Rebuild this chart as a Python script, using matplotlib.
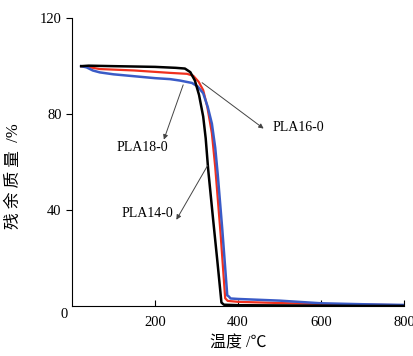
import matplotlib
matplotlib.use('Agg')
import matplotlib.pyplot as plt

plt.rcParams['font.family'] = ['Liberation Serif', 'Noto Sans CJK SC', 'DejaVu Sans']

# TG curves (temperature in C, residual mass in %)
t_black = [22, 40, 100, 200, 250, 272, 285, 296, 306, 316, 322, 328, 340, 350, 360, 366, 400, 500, 600, 700, 800]
w_black = [100, 100.2, 100, 99.7, 99.3, 99, 97.5, 94, 88, 79, 70, 57, 36, 19, 1.5, 0.6, 0.4, 0.3, 0.2, 0.1, 0.1]

t_red = [22, 40, 67, 150, 236, 277, 292, 305, 316, 326, 337, 345, 358, 369, 375, 400, 500, 600, 700, 800]
w_red = [100, 99.6, 98.8, 98.2, 97.2, 96.8, 96, 93.5, 90, 83, 72, 58, 30, 3.3, 2.2, 1.8, 1.3, 0.9, 0.6, 0.4]

t_blue = [22, 35, 50, 67, 100, 150, 200, 236, 260, 289, 303, 316, 327, 337, 345, 351, 362, 374, 378, 382, 400, 500, 600, 700, 800]
w_blue = [100, 99.5, 98.2, 97.4, 96.6, 95.8, 95, 94.6, 94, 93, 91.5, 88.7, 83, 76, 66, 55, 32, 4.5, 4, 3.2, 3, 2.3, 1.2, 0.8, 0.5]

x_ticks = [200, 400, 600, 800]
y_ticks = [40, 80, 120]

fig = plt.figure(figsize=(4.14, 3.56), dpi=100)
ax = fig.add_axes([0.174, 0.140, 0.802, 0.809])

ax.plot(t_red, w_red, color='#f0301e', lw=1.6)
ax.plot(t_blue, w_blue, color='#3a5bc7', lw=1.8)
ax.plot(t_black, w_black, color='black', lw=1.8)

ax.set_xlim(0, 800)
ax.set_ylim(0, 120)
ax.spines['top'].set_visible(False)
ax.spines['right'].set_visible(False)
ax.set_xticks(x_ticks)
ax.set_yticks(y_ticks)
ax.tick_params(axis='x', direction='in', length=4, labelsize=10.5, pad=7)
ax.tick_params(axis='y', direction='out', length=4, labelsize=10.5)
ax.annotate('0', xy=(0, 0), xytext=(-3, -6), textcoords='offset points',
            ha='right', va='center', fontsize=10.5)

ax.set_xlabel('温度 /℃', fontsize=11.5, labelpad=5)
ax.set_ylabel('残 余 质 量  /%', fontsize=12)
ax.yaxis.set_label_coords(-0.152, 0.45)

arrow = dict(arrowstyle='-|>', color='#444444', lw=0.7, mutation_scale=7)
ax.annotate('', xy=(467, 73.3), xytext=(308, 93.8), arrowprops=arrow)
ax.text(482, 74.6, 'PLA16-0', fontsize=10, va='center')
ax.annotate('', xy=(219, 68.3), xytext=(270, 93.3), arrowprops=arrow)
ax.text(170, 66, 'PLA18-0', fontsize=10, va='center', ha='center')
ax.annotate('', xy=(248, 35), xytext=(330, 59.6), arrowprops=arrow)
ax.text(182, 38.7, 'PLA14-0', fontsize=10, va='center', ha='center')

fig.savefig('out.png', dpi=100)
